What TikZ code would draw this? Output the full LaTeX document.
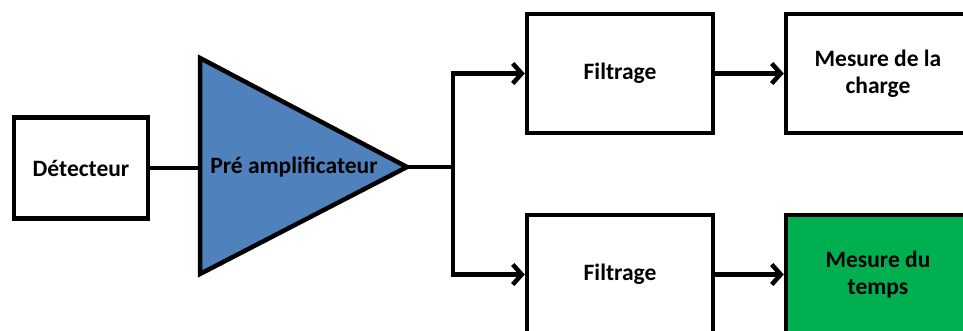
\documentclass[tikz,border=0pt]{standalone}
\usepackage{fontspec}
\setmainfont{Carlito}
\usetikzlibrary{arrows.meta}
\definecolor{ampblue}{HTML}{4F81BD}
\definecolor{tempsgreen}{HTML}{00B050}
\begin{document}
\begin{tikzpicture}[x=1pt, y=-1pt,
		bloc/.style={rectangle, draw, line width=4.5pt, fill=white, align=center, inner sep=0pt,
			font=\fontsize{23.5}{27}\selectfont\bfseries},
		->/.style={-{Straight Barb[length=9pt, width=20pt]}},
		line width=4.5pt]

	\useasboundingbox (0,0) rectangle (963,331);
	\clip (0,0) rectangle (963,331);

	\node[bloc, minimum width=134pt, minimum height=101pt] (det) at (81,168) {Détecteur};

	% Triangle du préamplificateur
	\coordinate (ampin) at (200,168);
	\coordinate (ampout) at (407,167);
	\draw[fill=ampblue, line join=miter] (200,58) -- (200,274) -- (ampout) -- cycle;
	\node[font=\fontsize{23.5}{27}\selectfont\bfseries] (amp) at (294,167) {Pré amplificateur};

	\coordinate (split) at (453,167);

	\node[bloc, minimum width=186pt, minimum height=119pt] (filt1) at (620,73.5) {Filtrage};
	\node[bloc, minimum width=186pt, minimum height=119pt] (filt2) at (620,274.5) {Filtrage};
	\node[bloc, minimum width=184pt, minimum height=119pt] (charge) at (878,73.5) {Mesure de la\\charge};
	\node[bloc, minimum width=184pt, minimum height=119pt, fill=tempsgreen] (temps) at (878,274.5) {Mesure du\\temps};

	\draw (det) -- (ampin);
	\draw (ampout) -- (split);
	\draw[->] (split) |- (filt1);
	\draw[->] (split) |- (filt2);
	\draw[->] (filt1) -- (charge);
	\draw[->] (filt2) -- (temps);

\end{tikzpicture}
\end{document}
